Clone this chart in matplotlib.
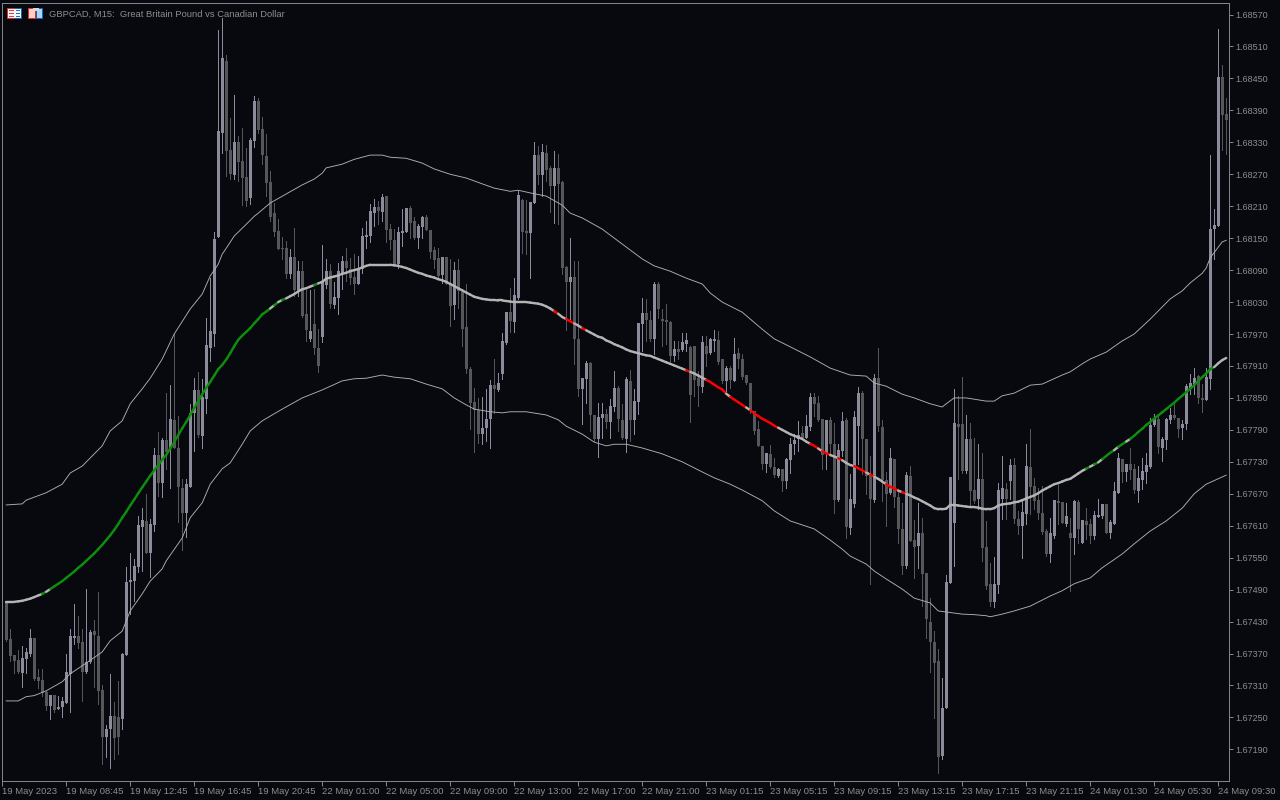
import numpy as np
from matplotlib import pyplot as plt
from matplotlib.collections import LineCollection
from matplotlib.patches import Rectangle

# prices are kept as points (1e-5) above this base
base = 1.67

opens = [
  469,397,367,358,334,360,369,399,326,320,
  298,272,292,266,270,277,332,399,403,392,
  336,354,412,403,302,214,229,253,251,247,
  367,504,506,533,608,619,559,611,743,690,
  771,756,809,756,681,634,683,822,865,778,
  848,944,970,1152,1347,1482,1315,1268,1330,1295,
  1265,1225,1332,1407,1355,1304,1255,1197,1163,1131,
  1131,1083,1114,1053,1088,1008,961,989,944,964,
  1062,1088,1024,1038,1084,1107,1092,1077,1064,1092,
  1152,1154,1197,1208,1199,1229,1167,1146,1101,1160,
  1161,1206,1182,1150,1171,1190,1165,1128,1113,1081,
  1114,1064,1024,1090,1049,983,904,842,827,782,
  794,810,874,865,895,953,1011,992,1038,1221,
  1163,1160,1216,1306,1268,1310,1282,1248,1282,1255,
  1096,1068,1077,961,867,885,916,818,773,812,
  820,805,833,869,809,773,882,809,842,989,
  1009,996,961,1064,998,996,992,929,942,940,
  951,946,947,887,870,947,934,957,959,923,
  882,906,882,934,923,893,878,825,792,760,
  726,745,720,703,717,694,733,763,773,784,
  775,795,852,840,810,745,809,763,658,750,
  809,606,651,797,859,773,703,658,887,795,
  696,672,735,664,604,534,703,583,572,596,
  521,429,392,356,178,268,503,615,801,801,
  713,773,677,660,698,570,501,467,499,660,
  679,694,724,623,610,632,720,685,658,634,
  600,557,591,656,655,613,596,587,655,578,
  619,613,591,627,628,651,596,613,672,735,
  711,726,717,675,696,711,720,799,810,756,
  771,809,818,812,794,801,869,874,891,850,
  846,886,1167,1173,1452,1383,
]
closes = [
  396,366,356,336,362,373,399,322,319,296,
  272,292,264,270,281,336,403,403,390,336,
  354,411,405,300,214,229,253,212,214,369,
  504,508,535,611,621,559,613,743,690,771,
  748,810,756,683,634,688,822,865,780,852,
  949,976,1148,1351,1488,1313,1270,1330,1293,1263,
  1220,1334,1407,1353,1306,1253,1190,1161,1130,1130,
  1083,1114,1053,1088,1004,977,976,944,910,1069,
  1088,1026,1039,1088,1107,1094,1075,1064,1092,1154,
  1156,1201,1208,1201,1227,1165,1146,1099,1161,1163,
  1206,1178,1150,1173,1190,1165,1124,1109,1079,1114,
  1064,1023,1090,1051,979,904,840,827,782,794,
  810,874,867,878,957,1011,994,1043,1231,1161,
  1160,1218,1306,1268,1312,1278,1248,1282,1251,1094,
  1068,1077,961,867,887,916,818,773,814,820,
  805,835,869,810,775,885,809,844,991,1009,
  996,961,1064,1017,994,992,929,942,936,955,
  959,855,884,872,955,932,961,961,917,882,
  906,884,932,923,889,878,825,788,760,726,
  747,720,705,717,694,735,763,771,780,775,
  797,852,839,809,743,809,763,658,752,807,
  608,660,814,859,773,703,660,887,797,696,
  670,737,664,604,534,705,581,570,596,519,
  435,392,352,176,268,504,702,803,795,713,
  773,675,656,698,568,497,467,501,677,681,
  660,724,623,610,636,722,683,656,634,598,
  557,596,658,653,615,628,587,656,604,621,
  611,591,630,630,651,596,617,675,737,711,
  726,715,677,700,713,724,799,812,758,773,
  810,818,812,792,801,872,878,887,850,846,
  889,1167,1175,1452,1381,1372,
]
highs = [
  469,416,367,377,384,381,416,399,341,341,
  300,292,292,291,289,369,416,463,441,416,
  491,414,433,486,311,236,332,279,319,371,
  533,559,548,628,643,670,623,756,786,775,
  859,874,970,816,698,698,839,887,899,885,
  1000,1075,1161,1541,1563,1494,1375,1419,1342,1357,
  1319,1338,1417,1413,1377,1345,1276,1216,1186,1152,
  1145,1130,1169,1107,1107,1053,1053,1054,979,1137,
  1111,1101,1068,1103,1116,1131,1113,1120,1116,1169,
  1182,1214,1223,1220,1233,1229,1176,1167,1171,1205,
  1206,1210,1190,1176,1191,1193,1165,1133,1131,1114,
  1114,1111,1105,1111,1051,1064,908,869,850,852,
  867,884,923,897,972,1011,1056,1075,1238,1223,
  1221,1218,1330,1323,1327,1325,1285,1313,1308,1257,
  1098,1150,1107,1107,887,919,917,818,840,840,
  829,848,900,872,839,889,902,867,991,1038,
  1036,1013,1068,1068,1017,1026,994,957,957,972,
  972,947,947,900,966,966,962,977,976,923,
  910,910,962,944,932,893,878,825,807,760,
  747,762,737,718,717,737,775,782,807,797,
  818,859,859,854,810,809,814,803,763,824,
  812,707,825,870,863,773,741,895,944,809,
  711,756,735,679,653,711,722,621,653,625,
  521,474,412,379,324,518,702,867,854,889,
  818,803,775,763,747,619,540,551,690,741,
  690,735,737,638,657,763,792,700,681,685,
  604,625,658,687,655,653,625,658,658,621,
  643,623,638,660,651,651,621,692,747,735,
  726,756,726,722,737,747,812,820,816,777,
  812,831,839,812,809,876,895,906,893,876,
  906,1306,1205,1542,1475,1413,
]
lows = [
  394,356,334,334,307,334,366,320,306,291,
  264,247,260,266,251,277,260,388,381,281,
  334,352,307,275,163,176,155,172,182,229,
  367,444,469,523,525,559,514,600,666,664,
  717,681,756,617,565,589,683,750,777,756,
  822,919,947,1152,1310,1267,1261,1261,1257,1212,
  1210,1214,1321,1347,1289,1229,1182,1154,1130,1111,
  1075,1075,1041,1041,1002,957,957,932,899,955,
  1056,1019,1019,1007,1054,1069,1064,1045,1064,1084,
  1131,1143,1173,1176,1182,1143,1130,1099,1094,1135,
  1161,1150,1148,1131,1150,1165,1113,1094,1075,1066,
  1064,985,998,1019,947,897,792,748,765,764,
  769,756,822,863,885,951,974,974,1036,1122,
  1120,1075,1216,1252,1229,1257,1199,1178,1176,1083,
  977,998,914,854,801,840,788,769,739,775,
  794,775,825,788,773,748,769,782,820,938,
  957,957,932,1000,947,951,919,919,923,938,
  938,805,854,835,861,910,932,938,914,878,
  863,869,882,906,885,876,822,782,760,717,
  711,718,702,702,675,681,709,745,750,775,
  775,790,816,807,717,717,741,634,656,741,
  587,595,645,726,707,670,501,655,788,656,
  610,670,645,578,519,531,581,512,531,459,
  399,336,249,146,172,268,503,534,698,709,
  709,647,653,642,544,491,459,458,484,623,
  623,660,615,595,550,613,632,642,623,595,
  553,542,587,613,615,610,488,557,578,578,
  585,578,585,627,625,596,587,613,672,692,
  694,698,672,655,679,690,718,797,747,732,
  754,803,810,777,773,792,857,857,840,824,
  846,867,1111,1173,1315,1308,
]

mid_line = [
  467,467,467,468,469,471,473,476,479,482,
  486,491,496,501,506,512,518,524,531,537,
  544,551,558,566,574,583,592,602,613,625,
  636,648,659,671,682,693,704,714,724,734,
  743,755,767,780,793,805,818,831,844,857,
  869,880,892,904,912,922,934,947,959,967,
  974,981,990,998,1007,1012,1018,1024,1030,1034,
  1037,1041,1045,1050,1054,1056,1059,1062,1065,1068,
  1074,1076,1078,1080,1083,1085,1088,1090,1092,1095,
  1098,1100,1100,1100,1100,1100,1100,1099,1098,1096,
  1094,1091,1088,1085,1083,1080,1078,1076,1073,1071,
  1068,1064,1060,1056,1052,1048,1044,1040,1038,1036,
  1035,1034,1034,1033,1033,1032,1031,1030,1030,1030,
  1030,1029,1028,1027,1025,1022,1018,1013,1008,1002,
  998,994,990,986,981,977,973,969,965,963,
  958,955,951,948,945,941,938,936,934,932,
  930,929,926,923,920,917,914,911,908,905,
  902,899,896,892,888,884,880,875,870,866,
  858,852,847,842,837,832,827,821,816,811,
  807,803,798,794,790,786,782,779,776,773,
  768,764,760,755,750,746,743,740,737,733,
  728,724,722,718,714,710,706,702,698,693,
  688,683,680,676,673,670,667,663,660,656,
  652,648,643,641,641,642,649,649,648,647,
  646,645,645,644,642,641,641,643,648,650,
  651,652,654,655,658,661,664,667,671,676,
  680,684,688,690,693,696,698,703,708,713,
  717,721,725,729,735,741,747,752,758,763,
  768,773,779,786,792,799,805,811,817,823,
  829,835,841,848,854,861,867,874,882,889,
  896,904,908,915,921,925,
]
green_runs = [(9, 10), (11, 66), (67, 68), (69, 70), (77, 78), (270, 271), (272, 273),
              (274, 277), (278, 280), (281, 302)]
red_runs = [(137, 138), (140, 142), (144, 145), (170, 171), (175, 180), (181, 185), (186, 193),
            (201, 203), (204, 206), (208, 209), (212, 215), (216, 217), (220, 223), (224, 225)]

upper_bars = [0,4,5,10,14,16,19,24,26,29,31,34,36,39,42,46,49,51,53,54,55,57,60,62,63,66,70,74,77,
              79,80,84,87,91,94,96,100,104,107,111,115,119,122,126,128,131,135,139,141,144,149,154,
              159,162,166,170,174,176,179,184,189,192,196,201,206,211,215,217,220,224,227,231,234,
              235,237,240,245,247,249,252,256,259,264,266,269,271,275,279,282,286,291,294,296,299,
              300,301,303,304,305]
upper_band = [649,651,658,672,688,709,722,760,788,807,839,867,887,923,970,1017,1045,1079,1101,1120,
              1131,1154,1176,1191,1197,1216,1233,1250,1261,1272,1282,1289,1298,1306,1306,1302,1300,
              1291,1280,1270,1263,1252,1244,1238,1240,1235,1229,1212,1197,1188,1167,1139,1111,1098,
              1088,1075,1064,1047,1030,1011,979,961,946,927,906,893,891,878,872,857,850,839,833,839,
              850,850,844,844,854,859,874,876,893,899,914,923,936,957,970,998,1036,1051,1066,1084,
              1094,1113,1133,1143,1146]
lower_bars = [0,3,5,7,10,14,16,20,24,26,29,31,34,36,39,40,44,46,49,51,54,56,59,61,64,69,74,79,84,87,
              90,94,97,101,105,109,112,115,117,121,124,126,130,135,138,140,144,147,150,152,155,159,
              164,169,174,177,181,184,189,192,196,202,206,209,211,215,217,220,224,227,231,233,239,
              242,245,246,249,252,256,261,264,267,271,274,279,282,286,290,294,297,300,305]
lower_band = [281,281,289,291,300,317,332,352,373,394,412,450,482,506,529,544,587,625,653,688,717,
              728,763,788,807,829,850,865,882,886,887,893,889,886,876,867,850,837,829,824,822,824,
              824,818,809,797,782,767,760,763,763,756,745,730,711,700,688,677,657,638,619,604,583,
              566,553,538,525,510,491,474,465,450,444,443,441,439,444,450,459,478,488,501,512,531,
              557,576,600,619,643,670,688,705]

price_ticks = [1.67190 + 0.0006 * k for k in range(24)]
date_ticks = [-1 + 16 * k for k in range(20)]
date_labels = ["19 May 2023", "19 May 08:45", "19 May 12:45", "19 May 16:45", "19 May 20:45",
               "22 May 01:00", "22 May 05:00", "22 May 09:00", "22 May 13:00", "22 May 17:00",
               "22 May 21:00", "23 May 01:15", "23 May 05:15", "23 May 09:15", "23 May 13:15",
               "23 May 17:15", "23 May 21:15", "24 May 01:30", "24 May 05:30", "24 May 09:30"]

bg = "#08090e"
grey = "#83838b"
text_grey = "#8d8d8d"
light = "#8b8b9b"
dark = "#56565b"
px = 0.72


def to_price(points):
  return base + np.array(points) / 1e5


def icon_box(fig, x, y, w, h, color):
  fig.add_artist(Rectangle((x / 1280, 1 - (y + h) / 800), w / 1280, h / 800, color=color,
                           lw=0, transform=fig.transFigure, zorder=10, antialiased=False))


plt.rcParams['font.family'] = ['Liberation Sans', 'DejaVu Sans']

fig = plt.figure(figsize=(12.8, 8), dpi=100, facecolor=bg)
# offset by a fraction of a pixel so snapped lines land on the same columns as the bodies
ax = fig.add_axes([2.2 / 1280, 1 - 780.8 / 800, 1227 / 1280, 778 / 800], facecolor=bg)

o = to_price(opens)
c = to_price(closes)
h = to_price(highs)
l = to_price(lows)
bars = np.arange(len(o))
colors = [light if cl >= op else dark for op, cl in zip(o, c)]

ax.vlines(bars, l, h, colors=colors, lw=px, zorder=2, antialiased=False)
ax.bar(bars, np.maximum(np.abs(c - o), 2.2e-5), bottom=np.minimum(o, c), width=0.75, color=colors,
       lw=0, zorder=3, antialiased=False)

ax.plot(upper_bars, to_price(upper_band), color="#b0b0b0", lw=0.65, zorder=4)
ax.plot(lower_bars, to_price(lower_band), color="#b0b0b0", lw=0.65, zorder=4)

# middle line, one colour per bar to bar segment
mid = to_price(mid_line)
seg_colors = ["#b4b4b4"] * (len(mid) - 1)
for start, end in green_runs:
  for k in range(start, end):
    seg_colors[k] = "#0c8f0c"
for start, end in red_runs:
  for k in range(start, end):
    seg_colors[k] = "#ff0000"
points = np.column_stack([bars, mid])
segments = np.stack([points[:-1], points[1:]], axis=1)
ax.add_collection(LineCollection(segments, colors=seg_colors, linewidths=2.4 * px, zorder=5,
                                 capstyle='round'))

ax.set_xlim(-1, 305.75)
ax.set_ylim(1.67131, 1.68592)
ax.set_xticks(date_ticks)
ax.set_xticklabels(date_labels, ha='left')
ax.set_yticks(price_ticks)
ax.set_yticklabels([f"{t:.5f}" for t in price_ticks])
ax.yaxis.tick_right()
ax.tick_params(axis='x', colors=grey, labelcolor=text_grey, labelsize=6.8, length=3.6, width=px, pad=0.6)
ax.tick_params(axis='y', colors=grey, labelcolor=text_grey, labelsize=6.5, length=3.2, width=px, pad=1.2)
for spine in ax.spines.values():
  spine.set_color(grey)
  spine.set_linewidth(px)

fig.text(49 / 1280, 1 - 14 / 800, "GBPCAD, M15:  Great Britain Pound vs Canadian Dollar",
         color=text_grey, fontsize=6.75, va='center', ha='left', zorder=11)

# the two small buttons in the corner
icon_box(fig, 7, 8, 15, 11, "#d8302c")
icon_box(fig, 15, 8, 7, 11, "#1a5fb0")
icon_box(fig, 8, 9, 13, 9, "#f4f4f4")
for row in (10, 13, 16):
  icon_box(fig, 9, row, 5, 1, "#e04038")
  icon_box(fig, 16, row, 4, 1, "#2a70c0")
icon_box(fig, 28, 8, 15, 11, "#d8302c")
icon_box(fig, 36, 8, 7, 11, "#1a5fb0")
icon_box(fig, 29, 9, 6, 9, "#ffd0c8")
icon_box(fig, 37, 9, 5, 9, "#a8d8f8")
icon_box(fig, 33, 8, 6, 3, "#d8d8d8")

fig.savefig("out.png", dpi=100, facecolor=bg)
